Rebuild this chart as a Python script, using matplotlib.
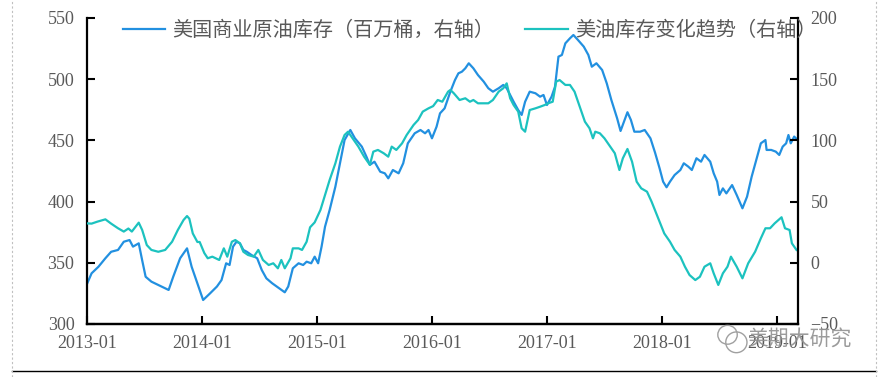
"""US commercial crude inventory vs. trend, dual axis, 2013-2019."""

import matplotlib

matplotlib.use("Agg")
import matplotlib.pyplot as plt  # noqa: E402
from matplotlib.lines import Line2D  # noqa: E402
from matplotlib.patches import Ellipse  # noqa: E402

# time in decimal years
blue_t = [2013.00, 2013.04, 2013.10, 2013.16, 2013.21, 2013.27, 2013.32, 2013.37, 2013.40,
          2013.45, 2013.48, 2013.51, 2013.56, 2013.62, 2013.68, 2013.71, 2013.75, 2013.81,
          2013.87, 2013.91, 2013.97, 2014.01, 2014.07, 2014.13, 2014.17, 2014.21, 2014.24,
          2014.27, 2014.30, 2014.33, 2014.36, 2014.39, 2014.43, 2014.48, 2014.52, 2014.56,
          2014.61, 2014.65, 2014.69, 2014.72, 2014.75, 2014.79, 2014.84, 2014.88, 2014.91,
          2014.95, 2014.98, 2015.01, 2015.04, 2015.07, 2015.11, 2015.16, 2015.20, 2015.24,
          2015.29, 2015.33, 2015.39, 2015.43, 2015.46, 2015.50, 2015.55, 2015.59, 2015.62,
          2015.66, 2015.71, 2015.75, 2015.79, 2015.85, 2015.90, 2015.94, 2015.97, 2016.00,
          2016.04, 2016.07, 2016.11, 2016.16, 2016.20, 2016.23, 2016.26, 2016.29, 2016.32,
          2016.36, 2016.40, 2016.45, 2016.49, 2016.53, 2016.58, 2016.62, 2016.65, 2016.68,
          2016.71, 2016.75, 2016.78, 2016.81, 2016.85, 2016.90, 2016.94, 2016.97, 2017.00,
          2017.04, 2017.07, 2017.10, 2017.13, 2017.16, 2017.20, 2017.23, 2017.27, 2017.32,
          2017.36, 2017.39, 2017.43, 2017.48, 2017.52, 2017.56, 2017.61, 2017.64, 2017.67,
          2017.70, 2017.73, 2017.76, 2017.81, 2017.85, 2017.90, 2017.94, 2017.98, 2018.01,
          2018.04, 2018.07, 2018.11, 2018.16, 2018.19, 2018.23, 2018.26, 2018.30, 2018.34,
          2018.37, 2018.42, 2018.45, 2018.48, 2018.50, 2018.53, 2018.56, 2018.61, 2018.65,
          2018.70, 2018.74, 2018.78, 2018.82, 2018.86, 2018.90, 2018.91, 2018.95, 2018.99,
          2019.02, 2019.05, 2019.08, 2019.10, 2019.12, 2019.15, 2019.18]
blue_v = [332.7, 341.4, 346.8, 353.7, 359.0, 360.5, 367.2, 368.6, 363.2,
          365.9, 352.0, 338.6, 334.6, 331.9, 329.2, 327.8, 338.6, 353.7,
          361.8, 346.8, 330.6, 319.6, 325.0, 330.6, 335.9, 349.6, 348.2,
          363.2, 367.2, 365.9, 360.5, 359.0, 356.4, 353.7, 344.1, 337.3,
          333.3, 330.6, 327.8, 325.9, 330.6, 345.5, 349.6, 348.2, 350.9,
          349.6, 355.0, 349.6, 363.2, 379.5, 393.1, 412.2, 431.3, 450.3,
          458.5, 451.7, 444.9, 436.7, 430.0, 432.6, 424.4, 423.1, 419.0,
          425.8, 423.1, 431.3, 447.6, 455.8, 458.5, 455.8, 458.5, 451.7,
          461.2, 472.1, 476.2, 489.8, 499.3, 504.8, 506.1, 508.9, 513.0,
          508.9, 503.4, 498.0, 492.6, 489.8, 492.6, 495.3, 492.6, 487.1,
          481.6, 474.8, 470.8, 481.6, 489.8, 488.5, 485.7, 487.1, 478.9,
          485.7, 493.9, 518.4, 519.8, 529.3, 533.4, 536.1, 532.0, 526.6,
          519.8, 510.2, 513.0, 507.5, 496.6, 483.0, 468.1, 457.7, 465.3,
          473.0, 466.7, 457.1, 457.1, 458.5, 451.7, 440.0, 427.0, 416.3,
          411.7, 416.3, 421.7, 425.8, 431.3, 428.5, 425.8, 435.4, 432.6,
          438.1, 432.6, 423.1, 416.3, 405.4, 410.8, 406.7, 413.5, 405.4,
          394.5, 404.0, 420.3, 434.0, 447.6, 450.3, 442.2, 442.2, 440.8,
          438.1, 444.9, 447.6, 454.4, 447.6, 453.1, 450.3]

cyan_t = [2013.00, 2013.04, 2013.09, 2013.16, 2013.21, 2013.27, 2013.32, 2013.36, 2013.39,
          2013.45, 2013.48, 2013.52, 2013.56, 2013.62, 2013.68, 2013.74, 2013.79, 2013.84,
          2013.87, 2013.89, 2013.92, 2013.96, 2013.98, 2014.02, 2014.05, 2014.09, 2014.15,
          2014.19, 2014.22, 2014.26, 2014.29, 2014.33, 2014.36, 2014.40, 2014.45, 2014.49,
          2014.53, 2014.58, 2014.62, 2014.66, 2014.69, 2014.72, 2014.77, 2014.79, 2014.84,
          2014.87, 2014.91, 2014.94, 2014.98, 2015.03, 2015.07, 2015.11, 2015.16, 2015.20,
          2015.24, 2015.27, 2015.31, 2015.36, 2015.41, 2015.46, 2015.49, 2015.53, 2015.58,
          2015.62, 2015.65, 2015.69, 2015.74, 2015.78, 2015.84, 2015.88, 2015.92, 2015.97,
          2016.01, 2016.05, 2016.09, 2016.14, 2016.16, 2016.19, 2016.24, 2016.29, 2016.33,
          2016.36, 2016.40, 2016.45, 2016.49, 2016.53, 2016.58, 2016.62, 2016.65, 2016.68,
          2016.71, 2016.75, 2016.78, 2016.81, 2016.85, 2016.90, 2016.94, 2016.98, 2017.01,
          2017.05, 2017.08, 2017.11, 2017.16, 2017.20, 2017.24, 2017.29, 2017.33, 2017.37,
          2017.40, 2017.42, 2017.46, 2017.50, 2017.55, 2017.59, 2017.63, 2017.66, 2017.70,
          2017.74, 2017.78, 2017.82, 2017.87, 2017.91, 2017.95, 2017.99, 2018.02, 2018.07,
          2018.11, 2018.16, 2018.20, 2018.24, 2018.29, 2018.33, 2018.37, 2018.42, 2018.45,
          2018.49, 2018.53, 2018.57, 2018.60, 2018.65, 2018.70, 2018.75, 2018.81, 2018.86,
          2018.90, 2018.94, 2018.98, 2019.04, 2019.07, 2019.11, 2019.13, 2019.17]
# right-axis units
cyan_v = [32.2, 32.0, 33.6, 35.5, 32.0, 28.2, 25.5, 28.0, 25.5,
          32.8, 26.8, 14.5, 10.5, 9.0, 10.5, 17.2, 26.8, 35.0,
          38.2, 36.0, 24.0, 17.0, 17.0, 8.0, 3.7, 5.0, 2.3,
          11.8, 5.0, 17.2, 18.6, 15.9, 9.0, 6.4, 5.0, 10.5,
          2.3, -1.8, -0.4, -4.5, 2.3, -4.5, 3.7, 11.8, 11.8,
          10.5, 17.2, 29.0, 33.0, 43.1, 55.4, 67.6, 81.3, 94.9,
          104.4, 107.1, 101.7, 94.9, 86.7, 80.0, 90.8, 92.2, 89.5,
          86.7, 94.9, 92.2, 97.6, 104.4, 112.6, 116.7, 123.5, 126.2,
          128.0, 133.0, 131.6, 139.8, 141.2, 138.5, 133.0, 134.4, 131.6,
          133.0, 130.3, 130.3, 130.3, 133.0, 139.8, 142.6, 146.6, 134.4,
          128.9, 123.5, 109.9, 107.1, 124.8, 126.2, 127.5, 128.9, 130.3,
          131.6, 148.0, 149.3, 145.3, 145.3, 139.8, 126.2, 115.3, 109.9,
          101.7, 107.1, 105.8, 101.7, 94.9, 89.5, 75.8, 85.4, 93.0,
          82.6, 66.3, 60.8, 58.1, 49.9, 40.4, 30.9, 24.0, 17.2,
          10.5, 5.0, -3.2, -10.0, -14.1, -11.4, -3.2, -0.4, -8.6,
          -18.1, -8.6, -3.2, 5.0, -3.2, -12.7, -0.4, 9.0, 20.0,
          28.2, 28.2, 32.2, 37.2, 28.2, 26.8, 15.9, 10.5]

years = [2013, 2014, 2015, 2016, 2017, 2018, 2019]
year_labels = ["2013-01", "2014-01", "2015-01", "2016-01", "2017-01", "2018-01", "2019-01"]
left_ticks = [300, 350, 400, 450, 500, 550]
right_ticks = [-50, 0, 50, 100, 150, 200]

BLUE = "#2290E0"
CYAN = "#1CC2BF"
TXT = "#595959"

plt.rcParams["font.family"] = ["Liberation Serif", "Noto Sans CJK SC"]

fig = plt.figure(figsize=(8.84, 3.77), dpi=100)
ax = fig.add_axes([0.0984, 0.1406, 0.8043, 0.8117])
ax2 = ax.twinx()

l1, = ax.plot(blue_t, blue_v, color=BLUE, lw=1.6)
l2, = ax2.plot(cyan_t, cyan_v, color=CYAN, lw=1.6)

ax.set_xlim(2013.0, 2019.183)
ax.set_ylim(300, 550)
ax2.set_ylim(-50, 200)
ax.set_xticks(years)
ax.set_xticklabels(year_labels)
ax.set_yticks(left_ticks)
ax2.set_yticks(right_ticks)

for a in (ax, ax2):
    for s in a.spines.values():
        s.set_linewidth(1.6)
        s.set_color("black")
    a.spines["top"].set_visible(False)
ax.spines["right"].set_visible(False)
ax2.spines["left"].set_visible(False)

ax.tick_params(axis="both", direction="in", length=6, width=1.5,
               labelsize=13, labelcolor=TXT)
ax.tick_params(axis="y", pad=9)
ax.tick_params(axis="x", pad=8)
ax2.tick_params(axis="y", direction="in", length=6, width=1.5,
                labelsize=13, labelcolor=TXT, pad=9)

leg = fig.legend([l1, l2],
                 ["美国商业原油库存（百万桶，右轴）", "美油库存变化趋势（右轴）"],
                 loc="center left", bbox_to_anchor=(0.139, 0.92), ncol=2,
                 frameon=False, borderpad=0, borderaxespad=0,
                 handlelength=2.1, handletextpad=0.35, columnspacing=1.55,
                 prop={"family": "Noto Sans CJK SC", "size": 14.5})
for t in leg.get_texts():
    t.set_color(TXT)

# watermark and page edges
fig.text(0.845, 0.102, "美期大研究", family="Noto Sans CJK SC", fontsize=15,
         color="#909090", alpha=0.9, ha="left", va="center")
fig.add_artist(Ellipse((0.823, 0.112), 0.022, 0.05, fill=False, ec="#a0a0a0", lw=1.0))
fig.add_artist(Ellipse((0.833, 0.092), 0.024, 0.055, fill=False, ec="#a0a0a0", lw=1.0))
fig.add_artist(Line2D([0.0136, 0.991], [0.016, 0.016], color="black", lw=1.0))
fig.add_artist(Line2D([0.0136, 0.0136], [0.0, 1.0], color="#c0c0c0", lw=0.8, ls=(0, (2, 2))))
fig.add_artist(Line2D([0.991, 0.991], [0.0, 1.0], color="#c0c0c0", lw=0.8, ls=(0, (2, 2))))

fig.savefig("out.png", dpi=100)
